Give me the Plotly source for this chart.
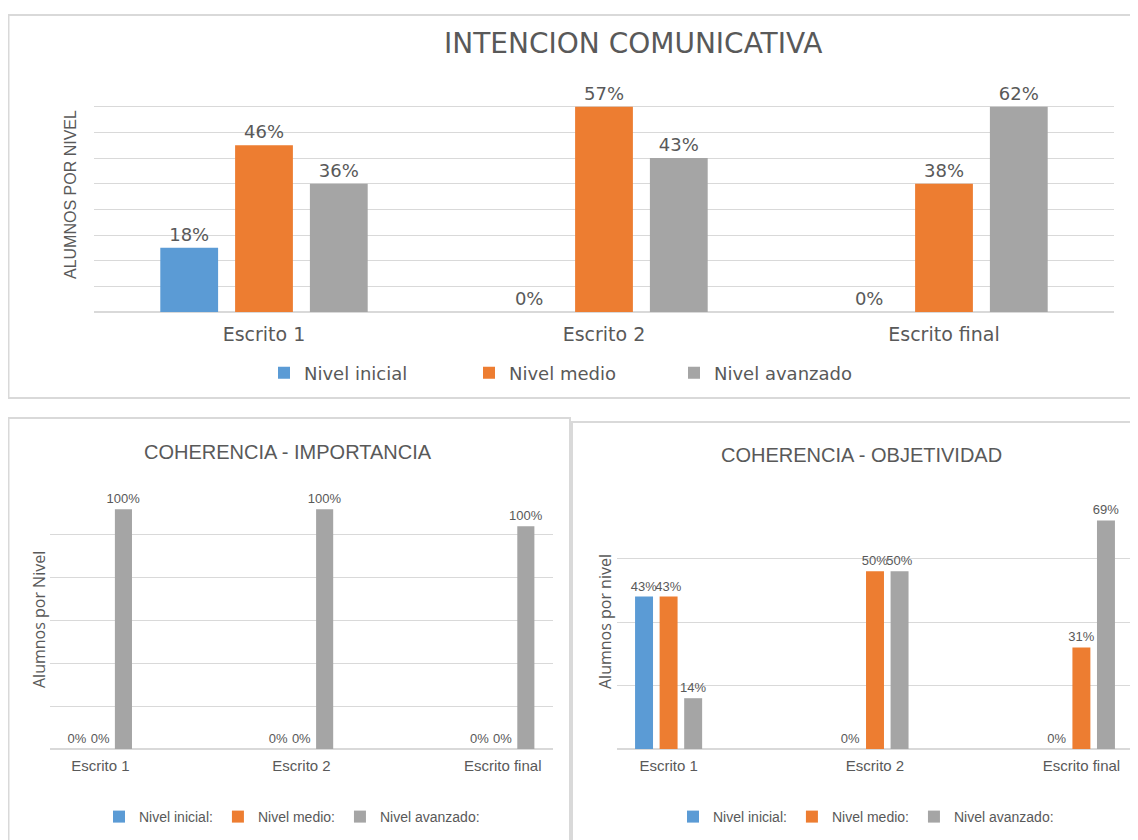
import plotly.graph_objects as go

# ---------------- data ----------------
categories = ["Escrito 1", "Escrito 2", "Escrito final"]
names_top = ["Nivel inicial", "Nivel medio", "Nivel avanzado"]
names_bottom = ["Nivel inicial:", "Nivel medio:", "Nivel avanzado:"]

# Chart 1: INTENCION COMUNICATIVA (bar height = students, label = percentage)
ic_inicial = [5, 0, 0]
ic_medio = [13, 16, 10]
ic_avanzado = [10, 12, 16]
ic_inicial_pct = ["18%", "0%", "0%"]
ic_medio_pct = ["46%", "57%", "38%"]
ic_avanzado_pct = ["36%", "43%", "62%"]

# Chart 2: COHERENCIA - IMPORTANCIA
ci_inicial = [0, 0, 0]
ci_medio = [0, 0, 0]
ci_avanzado = [28, 28, 26]
ci_inicial_pct = ["0%", "0%", "0%"]
ci_medio_pct = ["0%", "0%", "0%"]
ci_avanzado_pct = ["100%", "100%", "100%"]

# Chart 3: COHERENCIA - OBJETIVIDAD
co_inicial = [12, 0, 0]
co_medio = [12, 14, 8]
co_avanzado = [4, 14, 18]
co_inicial_pct = ["43%", "0%", "0%"]
co_medio_pct = ["43%", "50%", "31%"]
co_avanzado_pct = ["14%", "50%", "69%"]

# ---------------- style ----------------
OFF = 8                      # page body margin
W, H = 1130, 832
BLUE, ORANGE, GRAY = "#5B9BD5", "#ED7D31", "#A5A5A5"
TXT = "#595959"
GRID = "#D9D9D9"
F1 = "DejaVu Sans, sans-serif"
F2 = "Liberation Sans, Arial, sans-serif"
colors = [BLUE, ORANGE, GRAY]


def px(x):
    return (x - OFF) / W


def py(y):
    return 1 - (y - OFF) / H


fig = go.Figure()


def add_group(vals, pcts, names, xa, ya, legend, width, pitch, font, size):
    offs = [-pitch - width / 2, -width / 2, pitch - width / 2]
    for v, p, n, c, o in zip(vals, pcts, names, colors, offs):
        fig.add_trace(go.Bar(
            x=categories, y=v, text=p, name=n,
            marker=dict(color=c, line=dict(width=0)),
            xaxis=xa, yaxis=ya, legend=legend,
            width=width, offset=o,
            textposition="outside", constraintext="none", textangle=0,
            cliponaxis=False,
            outsidetextfont=dict(family=font, size=size, color=TXT),
            hoverinfo="skip",
        ))


add_group([ic_inicial, ic_medio, ic_avanzado],
          [ic_inicial_pct, ic_medio_pct, ic_avanzado_pct],
          names_top, "x", "y", "legend", 0.17, 0.22, F1, 18)
add_group([ci_inicial, ci_medio, ci_avanzado],
          [ci_inicial_pct, ci_medio_pct, ci_avanzado_pct],
          names_bottom, "x2", "y2", "legend2", 0.085, 0.115, F2, 13)
add_group([co_inicial, co_medio, co_avanzado],
          [co_inicial_pct, co_medio_pct, co_avanzado_pct],
          names_bottom, "x3", "y3", "legend3", 0.087, 0.119, F2, 13)


def xaxis(domain, rng, font, size, ticklen, anchor):
    return dict(domain=domain, type="category", range=rng, showgrid=False,
                showline=False, zeroline=False, ticks="outside",
                ticklen=ticklen, tickcolor="rgba(0,0,0,0)",
                tickfont=dict(family=font, size=size, color=TXT),
                anchor=anchor, fixedrange=True)


def yaxis(domain, rng, dtick, anchor):
    return dict(domain=domain, range=rng, dtick=dtick, showticklabels=False,
                showgrid=True, gridcolor=GRID, gridwidth=1,
                zeroline=True, zerolinecolor=GRID, zerolinewidth=1.5,
                showline=False, ticks="", anchor=anchor, fixedrange=True)


legend_common = dict(orientation="h", yanchor="middle",
                     bgcolor="rgba(0,0,0,0)", itemwidth=30,
                     traceorder="normal", itemclick=False)

fig.update_layout(
    width=W, height=H,
    margin=dict(l=0, r=0, t=0, b=0),
    paper_bgcolor="white", plot_bgcolor="white",
    barmode="group",
    showlegend=True,
    xaxis=xaxis([px(94), px(1114)], [-0.5, 2.5], F1, 19, 5, "y"),
    yaxis=yaxis([py(312), py(81)], [0, 18], 2, "x"),
    xaxis2=xaxis([px(50), px(553)], [-0.25, 2.25], F2, 15, 3, "y2"),
    yaxis2=yaxis([py(749), py(492)], [0, 30], 5, "x2"),
    xaxis3=xaxis([px(617), px(1133)], [-0.25, 2.25], F2, 15, 3, "y3"),
    yaxis3=yaxis([py(749), py(495)], [0, 20], 5, "x3"),
    legend=dict(x=px(264), y=py(373), xanchor="left", entrywidth=160,
                entrywidthmode="pixels",
                font=dict(family=F1, size=18, color=TXT), **legend_common),
    legend2=dict(x=px(292), y=py(817), xanchor="center",
                 font=dict(family=F2, size=14, color=TXT), **legend_common),
    legend3=dict(x=px(866), y=py(817), xanchor="center",
                 font=dict(family=F2, size=14, color=TXT), **legend_common),
)

# panel borders
for x0, y0, x1, y1 in [(8.5, 15, 1145, 398), (8.5, 418, 570, 850), (572, 422, 1145, 850)]:
    fig.add_shape(type="rect", xref="paper", yref="paper",
                  x0=px(x0), x1=px(x1), y0=py(y1), y1=py(y0),
                  line=dict(color=GRID, width=2), fillcolor="rgba(0,0,0,0)",
                  layer="below")

# titles
titles = [
    ("INTENCION COMUNICATIVA", 633, 44, F1, 28),
    ("COHERENCIA - IMPORTANCIA", 288, 452, F2, 20),
    ("COHERENCIA - OBJETIVIDAD", 861, 455, F2, 20),
]
for t, x, y, f, s in titles:
    fig.add_annotation(text=t, x=px(x), y=py(y), xref="paper", yref="paper",
                       xanchor="center", yanchor="middle", showarrow=False,
                       font=dict(family=f, size=s, color=TXT))

# y-axis titles
ytitles = [
    ("ALUMNOS POR NIVEL", 70, 195, F2, 16),
    ("Alumnos por Nivel", 39, 620, "Open Sans, sans-serif", 16),
    ("Alumnos por nivel", 605, 622, "Open Sans, sans-serif", 16),
]
for t, x, y, f, s in ytitles:
    fig.add_annotation(text=t, x=px(x), y=py(y), xref="paper", yref="paper",
                       xanchor="center", yanchor="middle", showarrow=False,
                       textangle=-90, font=dict(family=f, size=s, color=TXT))

fig.write_html("out.html")
